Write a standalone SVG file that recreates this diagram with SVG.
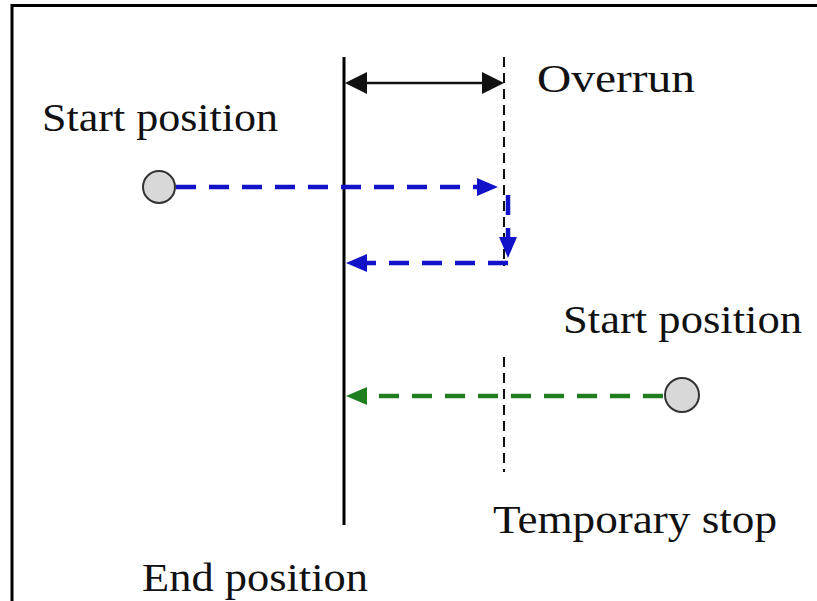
<svg xmlns="http://www.w3.org/2000/svg" width="817" height="601" viewBox="0 0 817 601">
<style>
.lbl{font-family:'Liberation Serif','Times New Roman',Times,serif;font-size:39px;fill:#111}
.blue{stroke:#1212c8;stroke-width:4.5;stroke-dasharray:20 13;fill:none}
.green{stroke:#1f7f1f;stroke-width:4.5;stroke-dasharray:20 13;fill:none}
.guide{stroke:#111;stroke-width:2;stroke-dasharray:10 6;fill:none}
.pos{fill:#d8d8d8;stroke:#333;stroke-width:2}
</style>
<defs>
<marker id="ab" markerUnits="userSpaceOnUse" markerWidth="22" markerHeight="22" refX="0" refY="10" orient="auto" viewBox="0 0 22 20">
<path d="M0,1 L21,10 L0,19 Z" fill="#1212c8"/>
</marker>
<marker id="ag" markerUnits="userSpaceOnUse" markerWidth="22" markerHeight="22" refX="0" refY="10" orient="auto" viewBox="0 0 22 20">
<path d="M0,1 L21,10 L0,19 Z" fill="#1f7f1f"/>
</marker>
<marker id="ak" markerUnits="userSpaceOnUse" markerWidth="22" markerHeight="24" refX="0" refY="12" orient="auto-start-reverse" viewBox="0 0 22 24">
<path d="M0,1 L22,12 L0,23 Z" fill="#111"/>
</marker>
</defs>
<g id="frame">
<path d="M12,601 V5.5 H817" fill="none" stroke="#000" stroke-width="3"/>
</g>
<g id="end-line">
<line x1="344" y1="57" x2="344" y2="525" stroke="#000" stroke-width="3"/>
</g>
<g id="temp-stop-line">
<line x1="504" y1="57" x2="504" y2="266" class="guide"/>
<line x1="504" y1="357" x2="504" y2="472" class="guide"/>
</g>
<g id="start-left">
<circle cx="159" cy="187" r="16" class="pos"/>
</g>
<g id="start-right">
<circle cx="682" cy="395" r="17" class="pos"/>
</g>
<g id="connectors">
<line x1="367" y1="83" x2="482" y2="83" stroke="#111" stroke-width="2.5" marker-start="url(#ak)" marker-end="url(#ak)"/>
<line x1="176" y1="187" x2="477" y2="187" class="blue" marker-end="url(#ab)"/>
<line x1="508" y1="187" x2="508" y2="237" class="blue" stroke-dashoffset="-8" marker-end="url(#ab)"/>
<line x1="508" y1="263" x2="367" y2="263" class="blue" marker-end="url(#ab)"/>
<line x1="663" y1="396" x2="367" y2="396" class="green" marker-end="url(#ag)"/>
</g>
<g id="labels" font-family="Liberation Serif, serif">
<text class="lbl" x="42" y="131" textLength="236" lengthAdjust="spacingAndGlyphs">Start position</text>
<text class="lbl" x="537" y="92" textLength="158" lengthAdjust="spacingAndGlyphs">Overrun</text>
<text class="lbl" x="563" y="333" textLength="239" lengthAdjust="spacingAndGlyphs">Start position</text>
<text class="lbl" x="493" y="533" textLength="284" lengthAdjust="spacingAndGlyphs">Temporary stop</text>
<text class="lbl" x="142" y="591" textLength="226" lengthAdjust="spacingAndGlyphs">End position</text>
</g>
</svg>
